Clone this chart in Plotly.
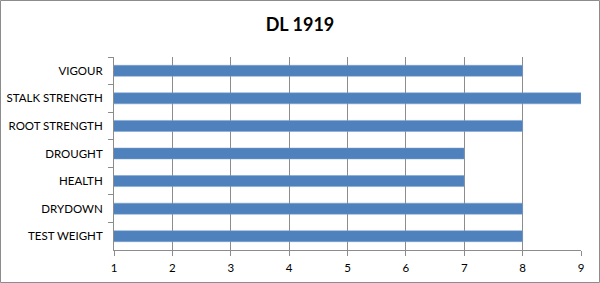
import plotly.graph_objects as go

categories = ["VIGOUR", "STALK STRENGTH", "ROOT STRENGTH", "DROUGHT", "HEALTH", "DRYDOWN", "TEST WEIGHT"]
values = [8, 9, 8, 7, 7, 8, 8]
x_ticks = [1, 2, 3, 4, 5, 6, 7, 8, 9]
title_text = "DL 1919"

W, H = 600, 283
L, R, T, B = 114, 19, 57, 33
pw, ph = W - L - R, H - T - B

fig = go.Figure(go.Bar(
    y=categories, x=values, orientation="h",
    marker=dict(color="#4F81BD", line=dict(color="#7FA1CF", width=0.5)),
    width=0.4,
))

grey = "#8C8C8C"
fig.update_layout(
    width=W, height=H,
    margin=dict(l=L, r=R, t=T, b=B, autoexpand=False),
    paper_bgcolor="white", plot_bgcolor="white",
    showlegend=False,
    font=dict(family="Lato, Open Sans, sans-serif", size=11.5, color="#000000"),
    title=dict(text="<b>" + title_text + "</b>", x=0.5, xanchor="center",
               y=1 - 25 / H, yanchor="middle",
               font=dict(size=18, family="Lato, Open Sans, sans-serif", color="#000000")),
    xaxis=dict(range=[1, 9], tickvals=x_ticks, showgrid=True, gridcolor=grey, gridwidth=1,
               showline=True, linecolor=grey, linewidth=1, automargin=False,
               ticks="outside", ticklen=5, tickcolor=grey, zeroline=False,
               tickfont=dict(size=11.5), ticklabelstandoff=2),
    yaxis=dict(categoryorder="array", categoryarray=categories, autorange="reversed",
               showline=True, linecolor=grey, linewidth=1, showgrid=False, automargin=False,
               ticks="outside", ticklen=5, tickcolor=grey, tickson="boundaries",
               tickfont=dict(size=11.5), ticklabelstandoff=8),
    bargap=0.6,
)

fig.add_shape(type="rect", xref="paper", yref="paper",
              x0=(0.5 - L) / pw, x1=(W - 0.5 - L) / pw,
              y0=(H - B - (H - 0.5)) / ph, y1=(H - B - 0.5) / ph,
              line=dict(color=grey, width=1), fillcolor="rgba(0,0,0,0)", layer="above")

fig.write_html("out.html")
